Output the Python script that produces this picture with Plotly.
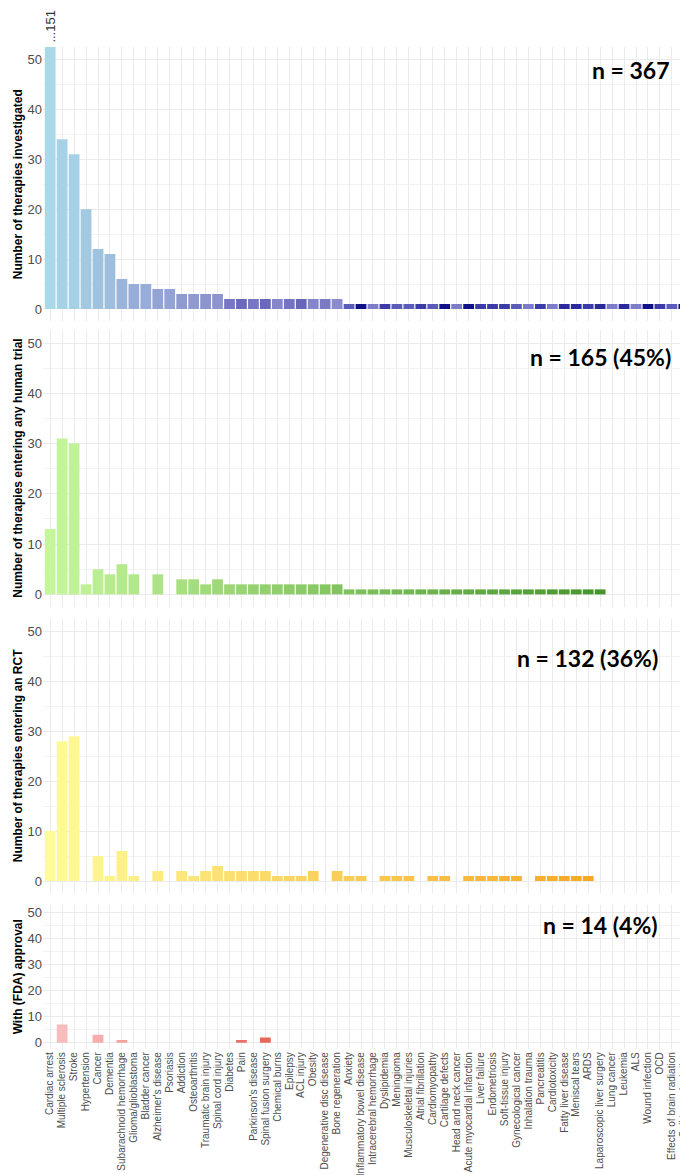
import plotly.graph_objects as go
from plotly.subplots import make_subplots

# === data ===
categories = [
    "Cardiac arrest", "Multiple sclerosis", "Stroke", "Hypertension", "Cancer",
    "Dementia", "Subarachnoid hemorrhage", "Glioma/glioblastoma", "Bladder cancer",
    "Alzheimer's disease", "Psoriasis", "Addiction", "Osteoarthritis",
    "Traumatic brain injury", "Spinal cord injury", "Diabetes", "Pain",
    "Parkinson's disease", "Spinal fusion surgery", "Chemical burns", "Epilepsy",
    "ACL injury", "Obesity", "Degenerative disc disease", "Bone regeneration",
    "Anxiety", "Inflammatory bowel disease", "Intracerebral hemorrhage",
    "Dyslipidemia", "Meningioma", "Musculoskeletal injuries", "Atrial fibrillation",
    "Cardiomyopathy", "Cartilage defects", "Head and neck cancer",
    "Acute myocardial infarction", "Liver failure", "Endometriosis",
    "Soft-tissue injury", "Gynecological cancer", "Inhalation trauma", "Pancreatitis",
    "Cardiotoxicity", "Fatty liver disease", "Meniscal tears", "ARDS",
    "Laparoscopic liver surgery", "Lung cancer", "Leukemia", "ALS",
    "Wound infection", "OCD", "Effects of brain radiation", "Cell transplantation",
]

investigated = [151, 34, 31, 20, 12, 11, 6, 5, 5, 4, 4, 3, 3, 3, 3,
                2, 2, 2, 2, 2, 2, 2, 2, 2, 2,
                1, 1, 1, 1, 1, 1, 1, 1, 1, 1, 1, 1, 1, 1, 1,
                1, 1, 1, 1, 1, 1, 1, 1, 1, 1, 1, 1, 1, 1]
human_trial = [13, 31, 30, 2, 5, 4, 6, 4, 0, 4, 0, 3, 3, 2, 3,
               2, 2, 2, 2, 2, 2, 2, 2, 2, 2,
               1, 1, 1, 1, 1, 1, 1, 1, 1, 1, 1, 1, 1, 1, 1,
               1, 1, 1, 1, 1, 1, 1, 0, 0, 0, 0, 0, 0, 0]
rct = [10, 28, 29, 0, 5, 1, 6, 1, 0, 2, 0, 2, 1, 2, 3,
       2, 2, 2, 2, 1, 1, 1, 2, 0, 2,
       1, 1, 0, 1, 1, 1, 0, 1, 1, 0, 1, 1, 1, 1, 1,
       0, 1, 1, 1, 1, 1, 0, 0, 0, 0, 0, 0, 0, 0]
fda = [0, 7, 0, 0, 3, 0, 1, 0, 0, 0, 0, 0, 0, 0, 0,
       0, 1, 0, 2, 0, 0, 0, 0, 0, 0,
       0, 0, 0, 0, 0, 0, 0, 0, 0, 0, 0, 0, 0, 0, 0,
       0, 0, 0, 0, 0, 0, 0, 0, 0, 0, 0, 0, 0, 0]

panel_titles = [
    "Number of therapies investigated",
    "Number of therapies entering any human trial",
    "Number of therapies entering an RCT",
    "With (FDA) approval",
]
n_labels = ["n = 367", "n = 165 (45%)", "n = 132 (36%)", "n = 14 (4%)"]
y_ticks = [0, 10, 20, 30, 40, 50]

# === styles ===
W, H = 688, 1175
panel_px = [(38, 313), (322, 599), (611, 886), (898, 1042)]  # top, bottom
n_pos = [(664, 61), (665, 349), (652, 650), (652, 918)]  # right edge, center y


def hex2rgb(h):
    return tuple(int(h[i:i + 2], 16) for i in (1, 3, 5))


def ramp(values, c0, c1):
    idx = [i for i, v in enumerate(values) if v > 0]
    lo, hi = idx[0], idx[-1]
    a, b = hex2rgb(c0), hex2rgb(c1)
    out = []
    for i in range(len(values)):
        t = min(max((i - lo) / (hi - lo), 0), 1)
        out.append("rgb(%d,%d,%d)" % tuple(round(a[k] + (b[k] - a[k]) * t) for k in range(3)))
    return out


blue_head = ["#a9d8e8", "#a6d2e6", "#a6d0e6", "#a2c8e2", "#9fc2de", "#9dbedd",
             "#9ab4da", "#97acd8", "#97acd8", "#93a4d4", "#93a4d4", "#8f9ad0",
             "#8f9ad0", "#8c95ce", "#8c95ce", "#7676c4", "#6a6abd", "#7777c4",
             "#6868bc", "#8686cb", "#7474c2", "#6666ba", "#8585cb", "#7a7ac5",
             "#8a8ccf"]
shade = {"L": "#7c7cc8", "M": "#5b5bb8", "D": "#3c3ca8", "E": "#2a2a9c", "N": "#10108a"}
blue_tail = [shade[s] for s in "MNLDMMDMNLNDDDMLDLEEDELELNDMN"]

colors = [
    blue_head + blue_tail,
    ramp(human_trial, "#c6f69c", "#45952a"),
    ramp(rct, "#fffb98", "#f6a822"),
    ramp(fda, "#f9bcbc", "#e8665a"),
]

series = [investigated, human_trial, rct, fda]

fig = make_subplots(rows=4, cols=1, shared_xaxes=True)

for r, vals in enumerate(series, start=1):
    fig.add_trace(
        go.Bar(x=categories, y=vals, marker_color=colors[r - 1],
               marker_line_width=0, showlegend=False),
        row=r, col=1,
    )
    top, bottom = panel_px[r - 1]
    fig.update_yaxes(
        domain=[1 - bottom / H, 1 - top / H],
        range=[-2.5, 52.5],
        tickvals=y_ticks,
        showgrid=True, gridcolor="#ebebeb", gridwidth=1,
        minor=dict(dtick=5, tick0=0, showgrid=True, gridcolor="#f3f3f3", gridwidth=0.6),
        zeroline=False, showline=False, ticks="",
        tickfont=dict(family="Liberation Sans", size=13, color="#4d4d4d"),
        row=r, col=1,
    )
    fig.update_xaxes(
        domain=[35 / W, 683 / W],
        range=[-0.6, len(categories) - 0.4],
        tickmode="array", tickvals=categories, ticktext=categories,
        showgrid=True, gridcolor="#ebebeb", gridwidth=1,
        zeroline=False, showline=False, ticks="",
        showticklabels=(r == 4),
        tickangle=-90,
        tickfont=dict(family="Liberation Sans", size=10, color="#4d4d4d"),
        row=r, col=1,
    )

annotations = []
for k, (top, bottom) in enumerate(panel_px):
    annotations.append(dict(
        x=10 / W, y=1 - (top + bottom) / 2 / H, xref="paper", yref="paper",
        text=panel_titles[k], textangle=-90, showarrow=False,
        xanchor="center", yanchor="middle",
        font=dict(family="Liberation Sans", size=12, color="black", weight="bold"),
    ))
    xr, yc = n_pos[k]
    annotations.append(dict(
        x=xr / W, y=1 - yc / H, xref="paper", yref="paper",
        text=n_labels[k], showarrow=False, xanchor="right", yanchor="middle",
        font=dict(family="Lato", size=23, color="black", weight="bold"),
    ))

# truncated first bar
annotations.append(dict(
    x=categories[0], y=1 - 36 / H, xref="x", yref="paper",
    text="..." + str(investigated[0]), textangle=-90, showarrow=False,
    xanchor="center", yanchor="bottom",
    font=dict(family="Liberation Sans", size=13, color="#333333"),
))

fig.update_layout(
    width=W, height=H,
    margin=dict(l=0, r=0, t=0, b=0),
    plot_bgcolor="white", paper_bgcolor="white",
    bargap=0.1,
    showlegend=False,
    annotations=annotations,
)

fig.write_html("out.html")
